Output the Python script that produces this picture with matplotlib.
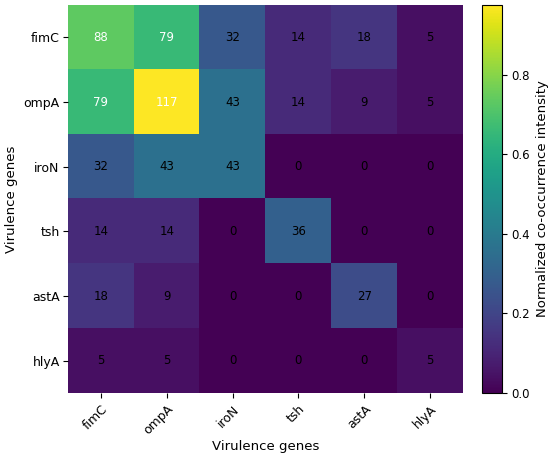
import matplotlib
matplotlib.use("Agg")
import matplotlib.pyplot as plt
import numpy as np

genes = ["fimC", "ompA", "iroN", "tsh", "astA", "hlyA"]
counts = [
    [88, 79, 32, 14, 18, 5],
    [79, 117, 43, 14, 9, 5],
    [32, 43, 43, 0, 0, 0],
    [14, 14, 0, 36, 0, 0],
    [18, 9, 0, 0, 27, 0],
    [5, 5, 0, 0, 0, 5],
]
n_isolates = 120

data = np.array(counts, dtype=float)
norm = data / n_isolates

fig = plt.figure(figsize=(5.5, 4.61), dpi=100)
ax = fig.add_axes([68/550, 1-393/461, 395/550, 388/461])
cax = fig.add_axes([482/550, 1-393/461, 20/550, 388/461])

im = ax.imshow(norm, cmap="viridis", aspect="auto", vmin=0, vmax=norm.max())
ax.set_xticks(range(len(genes)))
ax.set_yticks(range(len(genes)))
ax.set_xticklabels(genes, rotation=45, ha="right", rotation_mode="anchor", fontsize=9)
ax.set_yticklabels(genes, fontsize=9)
ax.tick_params(axis="y", pad=2.5)
ax.set_xlabel("Virulence genes", fontsize=9.5, labelpad=2)
ax.set_ylabel("Virulence genes", fontsize=9.5)

thr = data.max() * 0.6
for i in range(len(genes)):
    for j in range(len(genes)):
        v = data[i, j]
        ax.text(j, i, f"{int(v)}", ha="center", va="center", fontsize=8.5,
                color="white" if v > thr else "black")

for s in ax.spines.values():
    s.set_visible(False)

cb = fig.colorbar(im, cax=cax)
cb.set_label("Normalized co-occurrence intensity", fontsize=9.5)
cb.ax.tick_params(labelsize=8.5)
cb.outline.set_linewidth(0.8)

fig.savefig("out.png", dpi=100)
